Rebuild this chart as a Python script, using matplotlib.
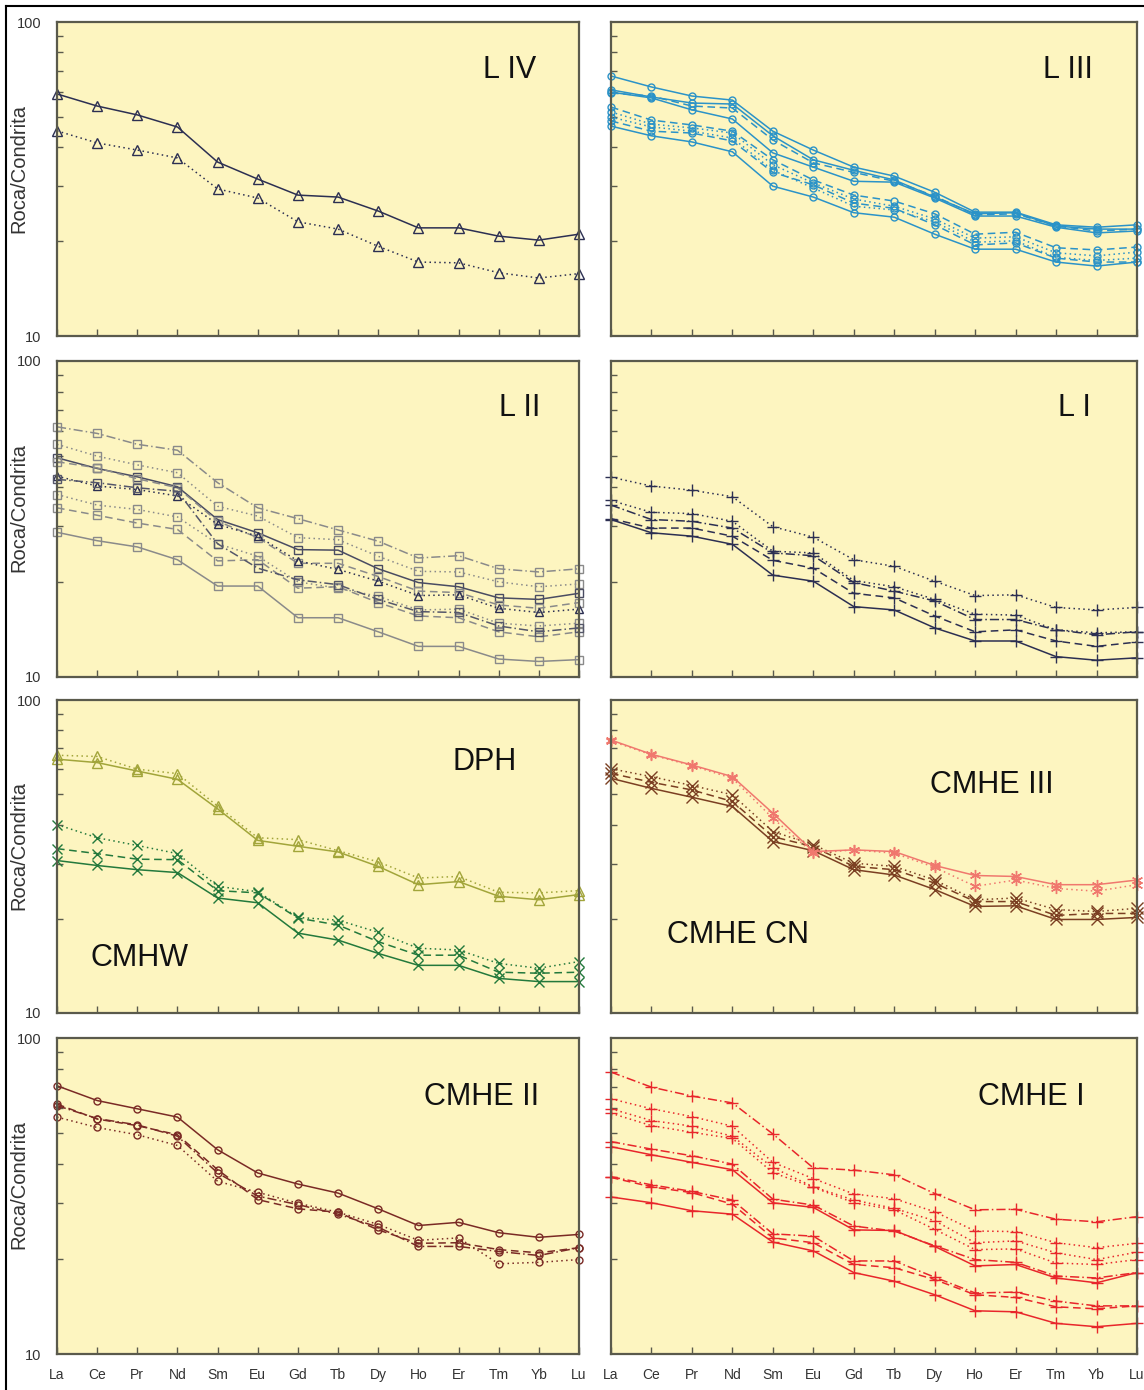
import matplotlib.pyplot as plt
from matplotlib.lines import Line2D
from matplotlib.ticker import LogLocator, NullFormatter

plt.rcParams['font.family'] = ['Liberation Sans', 'DejaVu Sans']

ree = ['La', 'Ce', 'Pr', 'Nd', 'Sm', 'Eu', 'Gd', 'Tb', 'Dy', 'Ho', 'Er', 'Tm', 'Yb', 'Lu']

# L IV
liv_a = [59.0, 54.0, 50.6, 46.3, 35.8, 31.6, 28.1, 27.7, 25.0, 22.1, 22.1, 20.8, 20.2, 21.1]
liv_b = [45.0, 41.2, 39.1, 36.9, 29.4, 27.5, 23.1, 21.9, 19.3, 17.2, 17.1, 15.9, 15.3, 15.8]

# L III
liii_a = [67.3, 62.1, 58.1, 56.4, 44.9, 39.1, 34.5, 32.3, 28.7, 24.8, 24.8, 22.6, 22.2, 22.6]
liii_b = [60.8, 57.7, 55.2, 54.8, 43.4, 36.4, 33.7, 31.4, 27.7, 24.5, 24.7, 22.4, 21.9, 21.9]
liii_c = [59.8, 57.3, 52.5, 49.1, 38.3, 34.5, 31.1, 30.9, 27.5, 24.1, 24.1, 22.2, 21.3, 21.6]
liii_d = [59.4, 58.1, 54.0, 53.2, 42.1, 35.6, 33.2, 31.1, 27.9, 24.3, 24.5, 22.4, 21.6, 21.9]
liii_e = [53.6, 48.7, 47.0, 44.9, 36.4, 31.4, 28.1, 26.9, 24.5, 21.1, 21.4, 19.1, 18.8, 19.2]
liii_f = [51.7, 47.3, 46.0, 44.3, 35.1, 30.7, 27.3, 25.9, 23.6, 20.5, 20.7, 18.4, 18.0, 18.5]
liii_g = [49.8, 46.3, 44.9, 42.7, 33.7, 29.6, 25.9, 25.2, 23.1, 19.9, 20.1, 17.8, 17.4, 17.7]
liii_h = [48.4, 44.9, 44.3, 41.8, 33.2, 30.3, 26.5, 25.5, 22.6, 19.5, 19.8, 17.7, 17.2, 17.2]
liii_i = [46.6, 43.4, 41.5, 38.6, 30.0, 27.7, 24.7, 23.9, 21.1, 18.9, 18.9, 17.2, 16.7, 17.2]

# L II
lii_a = [61.9, 59.0, 54.5, 52.2, 41.2, 34.3, 31.7, 29.2, 26.9, 23.8, 24.2, 22.0, 21.5, 22.0]
lii_b = [54.5, 50.0, 46.9, 44.3, 34.7, 32.3, 27.6, 27.2, 24.1, 21.6, 21.5, 20.0, 19.3, 19.7]
lii_c = [49.4, 45.7, 43.0, 40.0, 31.5, 28.6, 25.3, 25.2, 22.0, 19.9, 19.3, 17.8, 17.6, 18.4]
lii_d = [48.0, 45.9, 42.4, 39.7, 31.1, 27.6, 22.9, 22.9, 20.8, 18.7, 18.5, 16.9, 16.5, 17.2]
lii_e = [43.2, 40.2, 39.2, 37.4, 30.4, 27.9, 23.3, 21.9, 20.1, 18.1, 18.2, 16.5, 16.0, 16.4]
lii_f = [37.8, 35.0, 33.9, 32.1, 26.4, 24.1, 20.0, 19.1, 18.0, 16.3, 16.4, 14.8, 14.5, 14.8]
lii_g = [34.3, 32.5, 30.7, 29.3, 23.3, 23.5, 19.1, 19.3, 17.2, 15.6, 15.4, 13.9, 13.4, 13.9]
lii_h = [42.2, 41.2, 39.7, 38.7, 26.4, 22.1, 20.3, 19.6, 17.6, 16.1, 16.0, 14.5, 13.9, 14.3]
lii_i = [28.7, 27.0, 25.8, 23.5, 19.4, 19.4, 15.4, 15.4, 13.9, 12.5, 12.5, 11.4, 11.2, 11.35]

# L I
li_a = [42.9, 40.2, 39.0, 37.2, 29.9, 27.7, 23.5, 22.4, 20.1, 18.1, 18.2, 16.6, 16.3, 16.6]
li_b = [36.2, 33.2, 32.9, 31.1, 25.0, 24.7, 20.2, 19.3, 17.6, 15.8, 15.7, 14.1, 13.8, 13.9]
li_c = [35.0, 31.5, 31.1, 29.6, 24.7, 24.2, 19.9, 18.7, 17.4, 15.2, 15.2, 14.1, 13.6, 13.9]
li_d = [31.7, 29.6, 29.6, 27.9, 23.4, 22.1, 18.4, 17.8, 15.6, 13.9, 14.1, 13.0, 12.5, 12.9]
li_e = [31.5, 28.6, 27.9, 26.3, 21.0, 20.1, 16.7, 16.3, 14.3, 13.0, 13.0, 11.6, 11.3, 11.5]

# DPH / CMHW
dph_a = [64.7, 63.1, 59.3, 55.8, 44.9, 35.6, 34.1, 32.7, 29.4, 25.7, 26.3, 23.6, 23.0, 23.9]
dph_b = [66.6, 66.0, 60.1, 58.2, 45.8, 36.3, 35.8, 33.0, 30.4, 27.0, 27.3, 24.3, 24.2, 24.6]
cmhw_a = [40.0, 36.3, 34.3, 32.3, 25.4, 24.4, 20.2, 19.8, 18.1, 16.1, 15.9, 14.4, 13.9, 14.6]
cmhw_b = [33.5, 32.3, 31.0, 30.9, 24.6, 24.2, 20.1, 19.1, 16.9, 15.3, 15.3, 13.5, 13.4, 13.5]
cmhw_c = [30.7, 29.6, 28.7, 28.1, 23.3, 22.5, 18.0, 17.1, 15.5, 14.2, 14.2, 12.9, 12.6, 12.6]

# CMHE III / CMHE CN
cmhe3_a = [74.5, 67.1, 62.0, 56.9, 43.5, 32.8, 33.2, 32.8, 29.6, 27.5, 27.3, 25.7, 25.7, 26.6]
cmhe3_b = [74.0, 66.8, 61.7, 56.2, 41.9, 32.4, 33.2, 32.4, 29.2, 25.4, 26.6, 25.0, 24.5, 25.7]
cmhecn_a = [60.3, 56.9, 53.3, 49.8, 38.0, 34.5, 30.1, 29.4, 26.6, 23.0, 23.3, 21.4, 21.1, 21.6]
cmhecn_b = [58.3, 54.6, 51.6, 47.4, 36.6, 34.0, 29.4, 28.7, 26.0, 22.7, 22.7, 20.5, 20.8, 20.8]
cmhecn_c = [56.2, 52.2, 48.9, 45.7, 35.3, 33.0, 28.7, 27.6, 24.8, 21.9, 22.0, 19.9, 19.9, 20.2]

# CMHE II
cmhe2_a = [70.6, 63.4, 59.7, 56.2, 44.3, 37.4, 34.5, 32.3, 28.8, 25.5, 26.1, 24.2, 23.4, 23.9]
cmhe2_b = [61.8, 55.4, 52.8, 49.4, 38.3, 30.8, 28.8, 28.1, 24.7, 22.4, 22.5, 21.4, 20.9, 21.7]
cmhe2_c = [61.1, 55.6, 53.1, 48.9, 37.4, 31.6, 29.7, 27.7, 25.2, 21.9, 21.9, 21.1, 20.5, 21.7]
cmhe2_d = [56.2, 52.1, 49.4, 45.7, 35.2, 32.5, 30.0, 28.1, 25.7, 22.9, 23.3, 19.3, 19.5, 19.9]

# CMHE I
cmhe1_a = [78.0, 69.9, 65.5, 62.3, 49.7, 38.8, 38.2, 36.9, 32.2, 28.6, 28.7, 26.7, 26.2, 27.2]
cmhe1_b = [64.2, 59.7, 56.4, 52.6, 40.4, 35.9, 32.1, 31.0, 28.2, 24.5, 24.4, 22.5, 21.7, 22.4]
cmhe1_c = [59.7, 54.8, 52.6, 48.9, 38.9, 33.8, 30.7, 28.9, 26.4, 22.5, 22.8, 20.9, 19.9, 21.0]
cmhe1_d = [57.8, 52.8, 50.3, 48.1, 37.5, 33.7, 30.1, 28.6, 24.8, 21.4, 21.5, 19.4, 19.2, 19.9]
cmhe1_e = [47.0, 44.5, 42.4, 39.9, 30.9, 29.6, 25.4, 24.5, 22.0, 19.9, 19.5, 17.65, 17.4, 18.1]
cmhe1_f = [45.3, 42.7, 40.4, 38.3, 30.1, 29.1, 24.7, 24.6, 21.9, 19.0, 19.2, 17.4, 16.8, 18.1]
cmhe1_g = [36.4, 34.3, 32.7, 30.7, 24.0, 23.6, 19.7, 19.7, 17.5, 15.6, 15.7, 14.7, 14.2, 14.2]
cmhe1_h = [36.2, 33.8, 32.4, 29.8, 23.3, 22.5, 19.2, 18.75, 17.2, 15.4, 15.1, 14.1, 13.9, 14.2]
cmhe1_i = [31.4, 30.1, 28.4, 27.7, 22.6, 21.2, 18.1, 17.0, 15.4, 13.7, 13.6, 12.5, 12.2, 12.5]

# line styles
SOL = '-'
DOT = (0, (1, 2.2))
DASH = (0, (5, 3))
DDOT = (0, (6, 2, 1, 2))

NAVY = '#2c2f52'
BLUE = '#2b93c8'
GRAY = '#8a8a8a'
OLIVE = '#a2a53a'
GREEN = '#23793c'
PINK = '#f0786e'
BROWN = '#7b3f22'
MAROON = '#7a2a25'
RED = '#e8262b'
BG = '#fdf5c0'
SPINE = '#5a5a4c'

x = list(range(len(ree)))

fig = plt.figure(figsize=(11.44, 13.9), dpi=100)

# outer frame (left and top)
fig.add_artist(Line2D([6 / 1144, 6 / 1144], [0, 1 - 6 / 1390], transform=fig.transFigure, color='black', lw=1.5))
fig.add_artist(Line2D([6 / 1144, 1], [1 - 6 / 1390, 1 - 6 / 1390], transform=fig.transFigure, color='black', lw=1.5))

col_left = [57 / 1144, 611 / 1144]
col_width = [522 / 1144, 526 / 1144]
row_bottom = [1 - 336 / 1390, 1 - 677 / 1390, 1 - 1013 / 1390, 1 - 1354 / 1390]
row_height = [314 / 1390, 316 / 1390, 313 / 1390, 316 / 1390]


def make_axes(row, col):
    ax = fig.add_axes([col_left[col], row_bottom[row], col_width[col], row_height[row]])
    ax.set_facecolor(BG)
    ax.set_yscale('log')
    ax.set_ylim(10, 100)
    ax.set_xlim(0, 13)
    for s in ax.spines.values():
        s.set_color(SPINE)
        s.set_linewidth(1.6)
    ax.set_xticks(x)
    ax.tick_params(axis='x', direction='in', length=5, width=1, color=SPINE)
    if row == 3:
        ax.set_xticklabels(ree, fontsize=10, color='#333333')
        ax.tick_params(axis='x', pad=10)
    else:
        ax.tick_params(axis='x', labelbottom=False)
    ax.set_yticks([10, 100])
    ax.yaxis.set_minor_locator(LogLocator(base=10, subs=[2, 3, 4, 5, 6, 7, 8, 9]))
    ax.yaxis.set_minor_formatter(NullFormatter())
    ax.tick_params(axis='y', which='major', length=0, pad=11)
    ax.tick_params(axis='y', which='minor', direction='in', length=4, width=1, color=SPINE)
    if col == 0:
        ax.set_yticklabels(['10', '100'], fontsize=10.5, color='#333333')
        ax.set_ylabel('Roca/Condrita', fontsize=14.5, color='#333333')
        ax.yaxis.set_label_coords(-0.054, 0.535)
    else:
        ax.tick_params(axis='y', labelleft=False)
    return ax


def draw(ax, series, ms=6):
    for vals, ls, color, marker in series:
        ax.plot(x, vals, ls=ls, color=color, lw=1.1, marker=marker, ms=ms,
                mfc='none', mec=color, mew=1.0, clip_on=False)


def label(ax, text, xf, yf):
    ax.text(xf, yf, text, transform=ax.transAxes, fontsize=22,
            ha='center', va='center', color='#111111')


# row 1
ax = make_axes(0, 0)
draw(ax, [(liv_a, SOL, NAVY, '^'), (liv_b, DOT, NAVY, '^')], ms=6.5)
label(ax, 'L IV', 0.868, 0.847)

ax = make_axes(0, 1)
draw(ax, [(liii_a, SOL, BLUE, 'o'), (liii_b, SOL, BLUE, 'o'), (liii_c, SOL, BLUE, 'o'),
          (liii_d, DASH, BLUE, 'o'), (liii_e, DASH, BLUE, 'o'), (liii_f, DOT, BLUE, 'o'),
          (liii_g, DOT, BLUE, 'o'), (liii_h, DASH, BLUE, 'o'), (liii_i, SOL, BLUE, 'o')], ms=5)
label(ax, 'L III', 0.869, 0.847)

# row 2
ax = make_axes(1, 0)
draw(ax, [(lii_a, DDOT, GRAY, 's'), (lii_b, DOT, GRAY, 's'), (lii_c, SOL, '#4a4c62', 's'),
          (lii_d, DASH, GRAY, 's'), (lii_e, DOT, NAVY, '^'), (lii_f, DOT, GRAY, 's'),
          (lii_g, DASH, GRAY, 's'), (lii_h, DDOT, '#55576a', 's'), (lii_i, SOL, GRAY, 's')], ms=5.5)
label(ax, 'L II', 0.887, 0.851)

ax = make_axes(1, 1)
draw(ax, [(li_a, DOT, NAVY, '+'), (li_b, DOT, NAVY, '+'), (li_c, DDOT, NAVY, '+'),
          (li_d, DASH, NAVY, '+'), (li_e, SOL, NAVY, '+')], ms=9)
label(ax, 'L I', 0.882, 0.851)

# row 3
ax = make_axes(2, 0)
draw(ax, [(dph_a, SOL, OLIVE, '^'), (dph_b, DOT, OLIVE, '^'),
          (cmhw_a, DOT, GREEN, 'x'), (cmhw_b, DASH, GREEN, 'x'), (cmhw_c, SOL, GREEN, 'x')], ms=6.5)
label(ax, 'DPH', 0.820, 0.802)
label(ax, 'CMHW', 0.159, 0.176)

ax = make_axes(2, 1)
draw(ax, [(cmhecn_a, DOT, BROWN, 'x'), (cmhecn_b, DASH, BROWN, 'x'), (cmhecn_c, SOL, BROWN, 'x'),
          (cmhe3_a, SOL, PINK, (6, 2, 0)), (cmhe3_b, DOT, PINK, (6, 2, 0))], ms=8)
label(ax, 'CMHE III', 0.724, 0.728)
label(ax, 'CMHE CN', 0.241, 0.249)

# row 4
ax = make_axes(3, 0)
draw(ax, [(cmhe2_a, SOL, MAROON, 'o'), (cmhe2_b, DASH, MAROON, 'o'),
          (cmhe2_c, DDOT, MAROON, 'o'), (cmhe2_d, DOT, MAROON, 'o')], ms=5)
label(ax, 'CMHE II', 0.814, 0.813)

ax = make_axes(3, 1)
draw(ax, [(cmhe1_a, DDOT, RED, '+'), (cmhe1_b, DOT, RED, '+'), (cmhe1_c, DOT, RED, '+'),
          (cmhe1_d, DOT, RED, '+'), (cmhe1_e, DDOT, RED, '+'), (cmhe1_f, SOL, RED, '+'),
          (cmhe1_g, DDOT, RED, '+'), (cmhe1_h, DASH, RED, '+'), (cmhe1_i, SOL, RED, '+')], ms=9)
label(ax, 'CMHE I', 0.800, 0.813)

fig.savefig('out.png', dpi=100)
